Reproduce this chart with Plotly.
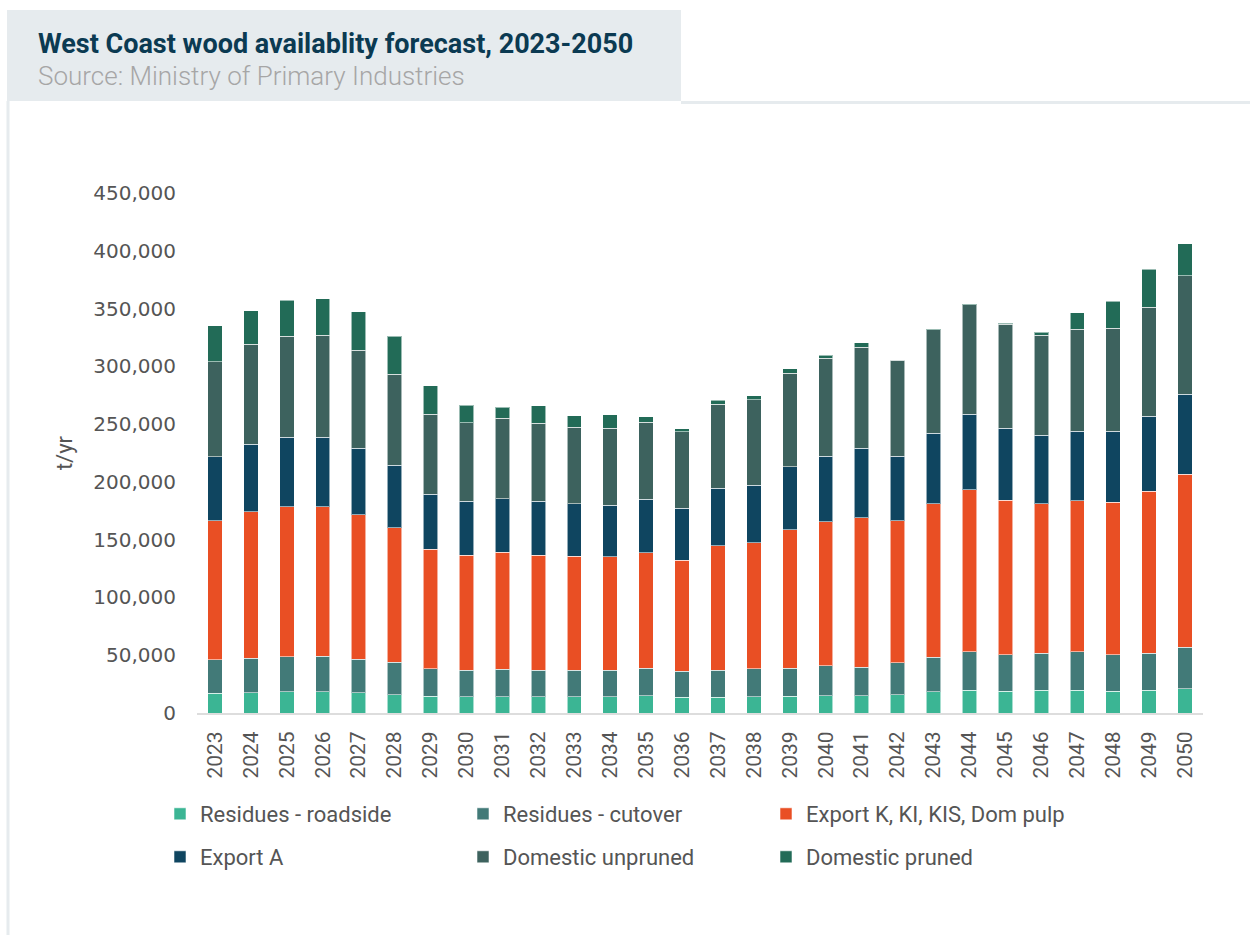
import plotly.graph_objects as go

years = [str(y) for y in range(2023, 2051)]

# values in tonnes per year
residues_roadside = [17300, 17600, 18200, 18200, 17600, 15900, 14700, 14100, 14100, 14100,
                     14100, 14100, 15000, 13600, 13600, 14100, 14700, 15000, 15000, 15900,
                     18200, 19600, 19000, 19600, 19600, 19000, 19600, 21100]
residues_cutover = [28600, 30000, 30300, 31100, 29100, 28200, 23400, 23100, 23700, 23100,
                    22800, 23100, 23900, 22500, 23300, 24300, 24200, 26000, 24800, 27400,
                    30000, 33500, 31500, 32300, 33500, 31500, 32300, 35700]
export_k = [120500, 126600, 129800, 129300, 124900, 116300, 103500, 99500, 101500, 99500,
            98700, 98100, 99800, 96300, 107900, 109000, 119800, 124300, 129200, 122900,
            132700, 140200, 133800, 129000, 130600, 132100, 140200, 149700]
export_a = [55400, 58300, 60300, 60200, 57400, 53900, 47600, 46500, 46200, 46500,
            45300, 44700, 46200, 44700, 49600, 49600, 54500, 57100, 60000, 56200,
            61400, 65400, 62000, 59400, 60000, 61100, 64600, 69300]
domestic_unpruned = [82200, 86800, 87600, 88300, 85100, 78800, 69500, 67800, 69500, 67500,
                     66600, 66600, 66900, 66100, 73000, 73900, 81000, 84800, 87700, 82800,
                     89400, 94700, 90300, 86500, 88600, 89200, 94600, 102400]
domestic_pruned = [31200, 28600, 31200, 31500, 33200, 32900, 24600, 15500, 9800, 15300,
                   9800, 11600, 4600, 2600, 3200, 3700, 3800, 2600, 3500, 400,
                   400, 700, 900, 2900, 14100, 23300, 32900, 27700]

series_names = ["Residues - roadside", "Residues - cutover", "Export K, KI, KIS, Dom pulp",
                "Export A", "Domestic unpruned", "Domestic pruned"]
series_values = [residues_roadside, residues_cutover, export_k, export_a,
                 domestic_unpruned, domestic_pruned]
series_colors = ["#3bb594", "#427a78", "#e94f24", "#0f4560", "#3d625e", "#226b57"]

y_ticks = list(range(0, 450001, 50000))
y_tick_text = [f"{v:,}" for v in y_ticks]

W, H = 1250, 935
L, R, T, B = 197, 1203, 193, 713


def px(x):
    return (x - L) / (R - L)


def py(y):
    return (B - y) / (B - T)


fig = go.Figure()
for i, (name, vals, col) in enumerate(zip(series_names, series_values, series_colors)):
    fig.add_trace(go.Bar(
        name=name, x=years, y=vals, width=0.4,
        legend="legend" if i < 3 else "legend2",
        marker=dict(color=col, line=dict(color="rgba(255,255,255,0.55)", width=1)),
        hovertemplate="%{x}: %{y:,}<extra>" + name + "</extra>",
    ))

shapes = [
    dict(type="rect", xref="paper", yref="paper", x0=px(7), x1=px(681), y0=py(101), y1=py(10),
         fillcolor="#e6ebee", line=dict(width=0), layer="below"),
    dict(type="line", xref="paper", yref="paper", x0=px(681), x1=px(1250), y0=py(102.5), y1=py(102.5),
         line=dict(color="#e6ebee", width=3)),
    dict(type="line", xref="paper", yref="paper", x0=px(8), x1=px(8), y0=py(101), y1=py(935),
         line=dict(color="#e6ebee", width=3)),
]

annotations = [
    dict(text="<b>West Coast wood availablity forecast, 2023-2050</b>", xref="paper", yref="paper",
         x=px(36), y=py(44), xanchor="left", yanchor="middle", showarrow=False,
         font=dict(family="Roboto", size=27, color="#0b3a52")),
    dict(text="Source: Ministry of Primary Industries", xref="paper", yref="paper",
         x=px(36), y=py(76), xanchor="left", yanchor="middle", showarrow=False,
         font=dict(family="Roboto", size=26, color="#a6a6a6", weight=300)),
]

legend_common = dict(orientation="h", xanchor="left", yanchor="middle",
                     entrywidth=258, entrywidthmode="pixels", traceorder="normal",
                     font=dict(family="Roboto", size=22, color="#555555"),
                     itemclick=False, bgcolor="rgba(0,0,0,0)")

fig.update_layout(
    width=W, height=H,
    barmode="stack",
    plot_bgcolor="white", paper_bgcolor="white",
    margin=dict(l=L, r=W - R, t=T, b=H - B, autoexpand=False),
    shapes=shapes, annotations=annotations,
    showlegend=True,
    legend=dict(x=px(160), y=py(814), **legend_common),
    legend2=dict(x=px(160), y=py(857), **legend_common),
    xaxis=dict(type="category", tickangle=-90, showline=True, linecolor="#dddddd", linewidth=2,
               ticks="", showgrid=False, tickfont=dict(family="Roboto", size=21, color="#555555"),
               ticklabelstandoff=8),
    yaxis=dict(range=[0, 450000], tickvals=y_ticks, ticktext=y_tick_text, showgrid=False,
               zeroline=False, showline=False, ticks="",
               tickfont=dict(family="DejaVu Sans", size=20, color="#555555"),
               ticklabelstandoff=20,
               title=dict(text="t/yr", font=dict(family="Roboto", size=22, color="#555555"),
                          standoff=14)),
    hovermode="closest",
)

fig.write_html("out.html")
